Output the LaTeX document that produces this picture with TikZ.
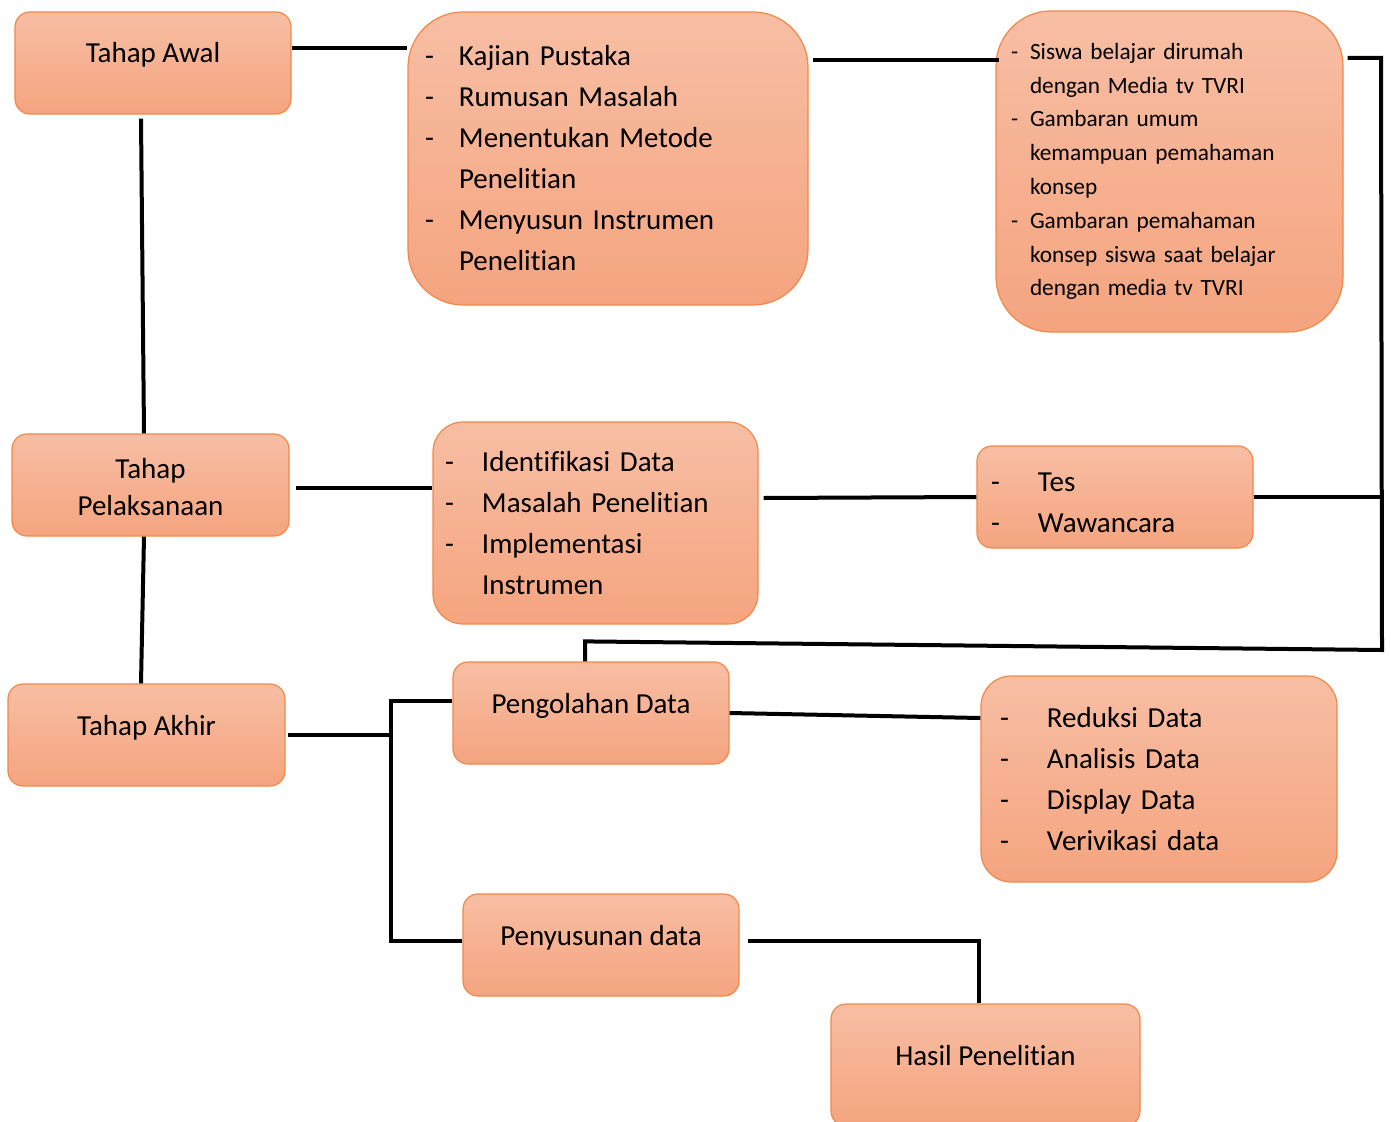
\documentclass[tikz,border=0pt]{standalone}
\usepackage{fontspec}
\setmainfont{Carlito}[Ligatures=NoCommon]
\definecolor{boxtop}{HTML}{F7BEA4}
\definecolor{boxbot}{HTML}{F5A47F}
\definecolor{boxline}{HTML}{F0884A}
\newcommand{\dsh}[1]{\makebox[#1][l]{-}}
\newcommand{\boxfont}{\fontsize{29pt}{41pt}\selectfont}
\begin{document}
\begin{tikzpicture}[x=1pt,y=-1pt,
    box/.style={rectangle,rounded corners=15pt,draw=boxline,line width=1.2pt,top color=boxtop,bottom color=boxbot,inner sep=0pt,font=\boxfont},
    single/.style={box,align=center,text height=20pt,text depth=20pt},
    link/.style={line width=4pt}]
\useasboundingbox (0,0) rectangle (1391,1121);
% kolom kiri
\node[single,minimum width=276pt,minimum height=102pt] (awal) at (153,63) {Tahap Awal};
\node[box,align=center,minimum width=277pt,minimum height=102pt,font=\fontsize{29pt}{37pt}\selectfont] (pelaksanaan) at (150.5,485) {\rule{0pt}{24pt}Tahap\\Pelaksanaan};
\node[single,minimum width=277pt,minimum height=102pt] (akhir) at (146.5,735) {Tahap Akhir};
% kolom tengah
\node[box,rounded corners=55pt,align=left,inner xsep=17pt,text width=366pt,minimum height=293pt] (kajian) at (608,158.5)
  {\dsh{34pt}Kajian Pustaka\\ \dsh{34pt}Rumusan Masalah\\ \dsh{34pt}Menentukan Metode\\ \hspace*{34pt}Penelitian\\ \dsh{34pt}Menyusun Instrumen\\ \hspace*{34pt}Penelitian};
\node[box,rounded corners=30pt,align=left,inner xsep=12pt,text width=301pt,minimum height=202pt] (identifikasi) at (595.5,523)
  {\dsh{37pt}Identifikasi Data\\ \dsh{37pt}Masalah Penelitian\\ \dsh{37pt}Implementasi\\ \hspace*{37pt}Instrumen};
\node[single,minimum width=276pt,minimum height=102pt] (pengolahan) at (591,713) {Pengolahan Data};
\node[single,minimum width=276pt,minimum height=102pt] (penyusunan) at (601,945) {Penyusunan data};
% kolom kanan
\node[box,rounded corners=55pt,align=left,inner xsep=15pt,text width=317pt,minimum height=321pt,font=\fontsize{23.3pt}{33.8pt}\selectfont] (siswa) at (1169.5,171.5)
  {\dsh{19pt}Siswa belajar dirumah\\ \hspace*{19pt}dengan Media tv TVRI\\ \dsh{19pt}Gambaran umum\\ \hspace*{19pt}kemampuan pemahaman\\ \hspace*{19pt}konsep\\ \dsh{19pt}Gambaran pemahaman\\ \hspace*{19pt}konsep siswa saat belajar\\ \hspace*{19pt}dengan media tv TVRI};
\node[box,align=left,inner xsep=14pt,text width=248pt,minimum height=102pt] (tes) at (1115,497)
  {\rule{0pt}{31pt}\dsh{47pt}Tes\\ \dsh{47pt}Wawancara};
\node[box,rounded corners=30pt,align=left,inner xsep=19pt,text width=318pt,minimum height=206pt] (reduksi) at (1159,779)
  {\dsh{47pt}Reduksi Data\\ \dsh{47pt}Analisis Data\\ \dsh{47pt}Display Data\\ \dsh{47pt}Verivikasi data};
\node[single,minimum width=309pt,minimum height=122pt] (hasil) at (985.5,1065) {Hasil Penelitian};
% garis
\coordinate (rt) at (1381,58);
\coordinate (rb) at (1382,650);
\coordinate (br) at (391,735);
\draw[link] ([yshift=15pt]awal.east) -- ([yshift=15pt]awal.east -| kajian.west);
\draw[link] ([xshift=4pt,yshift=98.5pt]kajian.east) -- ([xshift=4pt,yshift=98.5pt]kajian.east -| siswa.west);
\draw[link] ([xshift=4pt,yshift=113.5pt]siswa.east) -- (rt) -- (rb)
  -- ([xshift=-6pt,yshift=20pt]pengolahan.north) -- ([xshift=-6pt]pengolahan.north);
\draw[link] (tes.east) -- (tes.east -| rt);
\draw[link] ([xshift=-12pt,yshift=-4pt]awal.south) -- ([xshift=-6.5pt]pelaksanaan.north);
\draw[link] ([xshift=-6.5pt]pelaksanaan.south) -- ([xshift=-5.5pt]akhir.north);
\draw[link] ([xshift=6pt,yshift=-3pt]pelaksanaan.east) -- ([yshift=-3pt]pelaksanaan.east -| identifikasi.west);
\draw[link] ([xshift=5pt,yshift=25pt]identifikasi.east) -- (tes.west);
\draw[link] ([xshift=2pt]akhir.east) -- (br);
\draw[link] ([yshift=12pt]pengolahan.west) -| ([yshift=4pt]penyusunan.west -| br) -- ([yshift=4pt]penyusunan.west);
\draw[link] (pengolahan.east) -- ([yshift=61pt]reduksi.west);
\draw[link] ([xshift=8pt,yshift=4pt]penyusunan.east) -| ([xshift=-6.5pt]hasil.north);
\end{tikzpicture}
\end{document}
